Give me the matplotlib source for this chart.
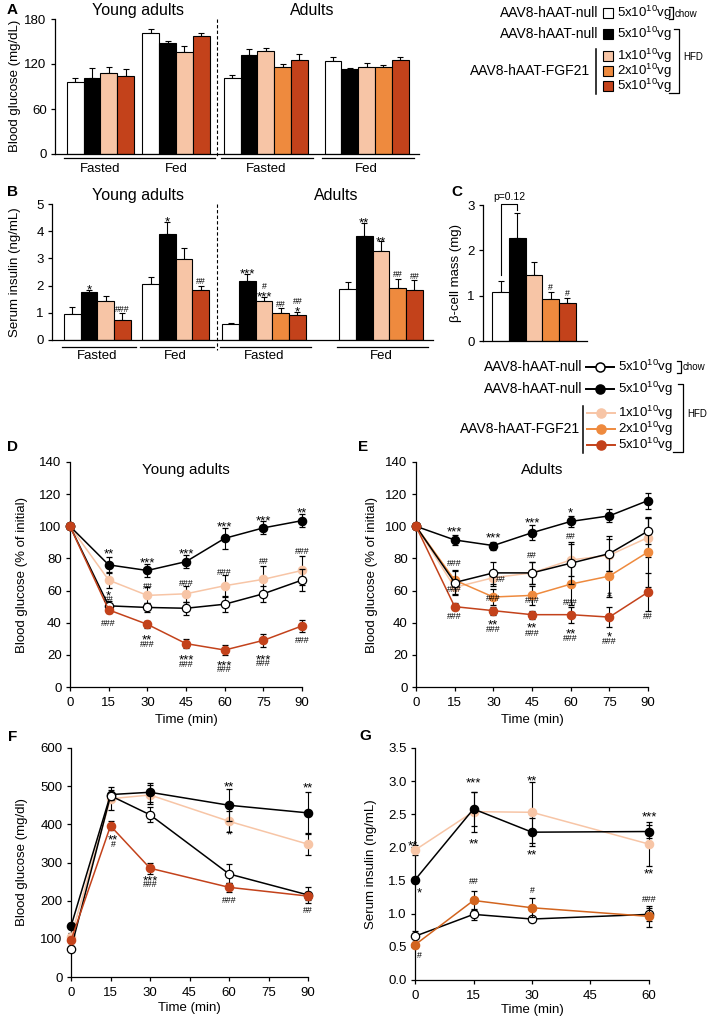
import numpy as np
import matplotlib.pyplot as plt
from matplotlib.patches import Rectangle
from matplotlib.transforms import blended_transform_factory, offset_copy

plt.rcParams['font.family'] = ['Liberation Sans', 'DejaVu Sans']
plt.rcParams['mathtext.default'] = 'regular'
plt.rcParams['axes.linewidth'] = 0.9
plt.rcParams['xtick.major.width'] = 0.9
plt.rcParams['ytick.major.width'] = 0.9
plt.rcParams['xtick.major.size'] = 3
plt.rcParams['ytick.major.size'] = 3
plt.rcParams['xtick.major.pad'] = 4.5
plt.rcParams['ytick.major.pad'] = 3
plt.rcParams['xtick.labelsize'] = 9.5
plt.rcParams['ytick.labelsize'] = 9.5

# ---------------------------------------------------------------
# colours
# ---------------------------------------------------------------
WHITE = '#FFFFFF'
BLACK = '#000000'
PEACH = '#F7C5A6'
ORANGE = '#EE8A3E'
RED = '#C3421B'
G_ORANGE = '#D2641E'
young_colors = [WHITE, BLACK, PEACH, RED]
adult_colors = [WHITE, BLACK, PEACH, ORANGE, RED]

# ---------------------------------------------------------------
# A: blood glucose (mg/dL)
# ---------------------------------------------------------------
a_young_fasted = [96, 102, 108, 104]
a_young_fasted_err = [6, 13, 8, 10]
a_young_fed = [162, 148, 136, 158]
a_young_fed_err = [5, 3, 8, 3]
a_adult_fasted = [102, 132, 137, 116, 126]
a_adult_fasted_err = [4, 8, 5, 4, 7]
a_adult_fed = [124, 113, 116, 116, 126]
a_adult_fed_err = [5, 2, 5, 3, 4]

# ---------------------------------------------------------------
# B: serum insulin (ng/mL)
# ---------------------------------------------------------------
b_young_fasted = [0.97, 1.75, 1.45, 0.75]
b_young_fasted_err = [0.25, 0.1, 0.18, 0.23]
b_young_fasted_sig = ['', '*', '', '###']
b_young_fed = [2.07, 3.88, 2.97, 1.82]
b_young_fed_err = [0.25, 0.47, 0.43, 0.16]
b_young_fed_sig = ['', '*', '', '##']
b_adult_fasted = [0.57, 2.17, 1.43, 1.0, 0.93]
b_adult_fasted_err = [0.05, 0.27, 0.15, 0.17, 0.1]
b_adult_fasted_sig = ['', '***', '#\n***', '##', '##\n*']
b_adult_fed = [1.88, 3.82, 3.27, 1.93, 1.82]
b_adult_fed_err = [0.25, 0.48, 0.36, 0.32, 0.37]
b_adult_fed_sig = ['', '**', '**', '##', '##']

# ---------------------------------------------------------------
# C: beta-cell mass (mg)
# ---------------------------------------------------------------
c_mass = [1.08, 2.27, 1.45, 0.92, 0.83]
c_mass_err = [0.25, 0.55, 0.3, 0.17, 0.12]
c_mass_sig = ['', '', '', '#', '#']

# ---------------------------------------------------------------
# D / E: ITT, % of initial
# ---------------------------------------------------------------
itt_time = [0, 15, 30, 45, 60, 75, 90]
d_black = [100, 76, 72.5, 78, 92.5, 99, 103.5]
d_black_err = [0, 5, 4, 4, 6.5, 4, 4]
d_white = [100, 50.5, 49.5, 49, 51.5, 58, 66.5]
d_white_err = [0, 3, 3, 4, 5, 5, 7]
d_peach = [100, 66.5, 57, 58, 63, 67, 72.5]
d_peach_err = [0, 5, 5, 5, 7, 8, 9]
d_red = [100, 48, 39, 27, 23, 29, 38]
d_red_err = [0, 2, 2, 3, 3, 4, 4]
d_sig = [(15, 85, '**'), (15, 59, '*'), (15, 55, '##'), (15, 40, '###'),
         (30, 80, '***'), (30, 63, '##'), (30, 32, '**'), (30, 27, '###'),
         (45, 85, '***'), (45, 65, '###'), (45, 19.5, '***'), (45, 14.5, '###'),
         (60, 102, '***'), (60, 71.5, '###'), (60, 15.5, '***'), (60, 11, '###'),
         (75, 106, '***'), (75, 78.5, '##'), (75, 19.5, '***'), (75, 15, '###'),
         (90, 111, '**'), (90, 84.5, '###'), (90, 29.5, '###')]

e_black = [100, 91.5, 88, 96, 103, 106.5, 116]
e_black_err = [0, 3, 2.5, 4.5, 3.5, 4, 5]
e_white = [100, 65, 71, 71, 77, 83, 97]
e_white_err = [0, 7, 7, 7, 13, 11, 8]
e_peach = [100, 62, 68, 71, 79, 82, 93]
e_peach_err = [0, 5, 5, 7, 10, 10, 12]
e_orange = [100, 66.5, 56, 57, 64, 69, 84]
e_orange_err = [0, 6, 5, 6, 13, 13, 22]
e_red = [100, 50, 47.5, 45, 45, 43.5, 59]
e_red_err = [0, 2, 2.5, 2.5, 5, 6, 12]
e_sig = [(15, 99, '***'), (15, 77, '###'), (15, 61, '###'), (15, 44.5, '###'),
         (30, 95, '***'), (33, 67, '##'), (30, 55.5, '###'), (30, 41, '**'), (30, 36, '###'),
         (45, 104.5, '***'), (45, 82.5, '##'), (45, 54.5, '###'), (45, 39, '**'), (45, 34, '###'),
         (60, 111, '*'), (60, 94, '##'), (60, 53, '###'), (60, 35.5, '**'), (60, 30.5, '###'),
         (75, 57.5, '#'), (75, 33.5, '*'), (75, 29, '###'),
         (90, 44, '##')]

# ---------------------------------------------------------------
# F: GTT blood glucose (mg/dl)
# ---------------------------------------------------------------
gtt_time = [0, 15, 30, 60, 90]
f_black = [133, 478, 484, 450, 430]
f_black_err = [8, 12, 25, 42, 55]
f_white = [74, 475, 425, 270, 215]
f_white_err = [6, 10, 20, 25, 22]
f_peach = [105, 467, 477, 408, 348]
f_peach_err = [10, 30, 25, 28, 28]
f_red = [96, 396, 285, 235, 212]
f_red_err = [8, 12, 14, 12, 10]
f_sig = [(16, 370, '**'), (16, 348, '#'), (30, 263, '***'), (30, 245, '###'),
         (60, 508, '**'), (60, 384, '*'), (60, 201, '###'),
         (90, 505, '**'), (90, 175, '##')]

# ---------------------------------------------------------------
# G: GTT serum insulin (ng/mL)
# ---------------------------------------------------------------
ins_time = [0, 15, 30, 60]
g_black = [1.51, 2.58, 2.23, 2.24]
g_black_err = [0.05, 0.25, 0.21, 0.1]
g_peach = [1.96, 2.54, 2.53, 2.05]
g_peach_err = [0.08, 0.3, 0.46, 0.33]
g_white = [0.66, 0.99, 0.92, 0.99]
g_white_err = [0.08, 0.08, 0.03, 0.1]
g_orange = [0.53, 1.2, 1.09, 0.96]
g_orange_err = [0.04, 0.15, 0.14, 0.16]
g_sig = [(-0.5, 2.08, '**'), (1, 1.38, '*'), (1, 0.38, '#'),
         (15, 3.04, '***'), (15, 2.12, '**'), (15, 1.49, '##'),
         (30, 3.07, '**'), (30, 1.94, '**'), (30, 1.36, '#'),
         (60, 2.52, '***'), (60, 1.66, '**'), (60, 1.23, '###')]

# ---------------------------------------------------------------
# layout (pixels of a 709 x 1019 canvas)
# ---------------------------------------------------------------
W, H = 709, 1019
fig = plt.figure(figsize=(W / 100, H / 100), dpi=100)

STAR_SIZE = 9.5
HASH_SIZE = 6.3


def add_axes_px(left, top, right, bottom):
    return fig.add_axes([left / W, 1 - bottom / H, (right - left) / W, (bottom - top) / H])


def clean(ax):
    ax.spines['top'].set_visible(False)
    ax.spines['right'].set_visible(False)


def sig_text(ax, x, y, s, dy_pts, anchor='center'):
    """Place a significance mark so its glyphs are centred at (or sit on) y."""
    size = STAR_SIZE if '*' in s else HASH_SIZE
    if anchor == 'center':
        shift = 0.57 * size if '*' in s else 0.36 * size
    else:
        shift = 0.42 * size if '*' in s else 0.0
    tr = offset_copy(ax.transData, fig=fig, y=dy_pts - shift, units='points')
    ax.text(x, y, s, ha='center', va='baseline', fontsize=size, transform=tr, zorder=6)
    return dy_pts + (0.3 * size if '*' in s else 0.72 * size)


def bar_group(ax, start, vals, errs, colors, sigs=None):
    x = start + np.arange(len(vals))
    ax.bar(x, vals, width=1, align='edge', color=colors, edgecolor='black',
           linewidth=0.8, zorder=2)
    ax.errorbar(x + 0.5, vals, yerr=[np.zeros(len(vals)), errs], fmt='none',
                ecolor='black', elinewidth=0.8, capsize=2.5, capthick=0.8, zorder=1)
    if sigs:
        top = np.array(vals) + np.array(errs)
        for xi, ti, s in zip(x, top, sigs):
            off = 1.2
            for line in s.split('\n')[::-1]:
                off = sig_text(ax, xi + 0.5, ti, line, off, 'bottom') + 1.5
    return x


def group_label(ax, start, n, label, xmax, drop_line, drop_text):
    tr = blended_transform_factory(ax.transData, ax.transAxes)
    x0, x1 = start - 0.15, min(start + n + 0.3, xmax)
    ax.plot([x0, x1], [drop_line, drop_line], color='black', lw=0.9,
            transform=tr, clip_on=False)
    ax.text(start + n / 2, drop_text, label, ha='center', va='center',
            fontsize=9.5, transform=tr)


def dashed_split(ax, x, low):
    tr = blended_transform_factory(ax.transData, ax.transAxes)
    ax.plot([x, x], [1.0, low], color='black', lw=0.8, ls=(0, (3, 2)),
            transform=tr, clip_on=False)


def series(ax, t, y, err, line, face, edge, z):
    cont = ax.errorbar(t, y, yerr=err, fmt='-o', color=line, mfc=face, mec=edge,
                       mew=0.9, ms=6, lw=1.1, ecolor='black', elinewidth=0.8,
                       capsize=2.3, capthick=0.8, zorder=z)
    for art in cont.get_children():
        art.set_clip_on(False)


def stars(ax, items):
    for t, y, s in items:
        sig_text(ax, t, y, s, 0)


# ---------------- panel A ----------------
bw = 16.8
axA = add_axes_px(55, 19, 419, 154)
clean(axA)
a_xmax = 364 / bw
axA.set_xlim(0, a_xmax)
axA.set_ylim(0, 180)
axA.set_yticks([0, 60, 120, 180])
axA.set_xticks([])
a_starts = [0.7, 5.2, 10.05, 16.05]
a_sets = [(a_young_fasted, a_young_fasted_err, young_colors, 'Fasted'),
          (a_young_fed, a_young_fed_err, young_colors, 'Fed'),
          (a_adult_fasted, a_adult_fasted_err, adult_colors, 'Fasted'),
          (a_adult_fed, a_adult_fed_err, adult_colors, 'Fed')]
for s, (v, e, c, lab) in zip(a_starts, a_sets):
    bar_group(axA, s, v, e, c)
    group_label(axA, s, len(v), lab, a_xmax, -4 / 135, -15 / 135)
dashed_split(axA, 162 / bw, -3 / 135)

# ---------------- panel B ----------------
bwb = 16.7
axB = add_axes_px(52, 204, 433, 340)
clean(axB)
b_xmax = 381 / bwb
axB.set_xlim(0, b_xmax)
axB.set_ylim(0, 5)
axB.set_yticks(range(6))
axB.set_xticks([])
b_starts = [0.72, 5.4, 10.2, 17.2]
b_sets = [(b_young_fasted, b_young_fasted_err, young_colors, b_young_fasted_sig, 'Fasted'),
          (b_young_fed, b_young_fed_err, young_colors, b_young_fed_sig, 'Fed'),
          (b_adult_fasted, b_adult_fasted_err, adult_colors, b_adult_fasted_sig, 'Fasted'),
          (b_adult_fed, b_adult_fed_err, adult_colors, b_adult_fed_sig, 'Fed')]
for s, (v, e, c, sg, lab) in zip(b_starts, b_sets):
    bar_group(axB, s, v, e, c, sg)
    group_label(axB, s, len(v), lab, b_xmax, -7 / 136, -16 / 136)
dashed_split(axB, 165 / bwb, -10 / 136)

# ---------------- panel C ----------------
axC = add_axes_px(483, 205, 587, 341)
clean(axC)
axC.set_xlim(0, 104 / bwb)
axC.set_ylim(0, 3)
axC.set_yticks([0, 1, 2, 3])
axC.set_xticks([])
cx = bar_group(axC, 0.55, c_mass, c_mass_err, adult_colors, c_mass_sig)
left_leg = c_mass[0] + c_mass_err[0] + 0.12
right_leg = c_mass[1] + c_mass_err[1] + 0.08
axC.plot([cx[0] + 0.5, cx[0] + 0.5, cx[1] + 0.5, cx[1] + 0.5],
         [left_leg, 3.03, 3.03, right_leg], color='black', lw=0.8, clip_on=False)
axC.text((cx[0] + cx[1]) / 2 + 0.5, 3.07, 'p=0.12', ha='center', va='bottom', fontsize=7.5)

# ---------------- panel D / E ----------------
axD = add_axes_px(70, 462, 302, 687)
axE = add_axes_px(416, 462, 648, 687)
for ax in (axD, axE):
    clean(ax)
    ax.set_xlim(0, 90)
    ax.set_ylim(0, 140)
    ax.set_xticks(range(0, 91, 15))
    ax.set_yticks(range(0, 141, 20))
    ax.set_xlabel('Time (min)', fontsize=9.5, labelpad=3)

series(axD, itt_time, d_peach, d_peach_err, PEACH, PEACH, PEACH, 3)
series(axD, itt_time, d_black, d_black_err, BLACK, BLACK, BLACK, 4)
series(axD, itt_time, d_white, d_white_err, BLACK, WHITE, BLACK, 4)
series(axD, itt_time, d_red, d_red_err, RED, RED, RED, 5)
stars(axD, d_sig)
axD.text(0.5, 0.965, 'Young adults', transform=axD.transAxes, ha='center',
         va='center', fontsize=11)

series(axE, itt_time, e_peach, e_peach_err, PEACH, PEACH, PEACH, 3)
series(axE, itt_time, e_orange, e_orange_err, ORANGE, ORANGE, ORANGE, 3)
series(axE, itt_time, e_black, e_black_err, BLACK, BLACK, BLACK, 4)
series(axE, itt_time, e_white, e_white_err, BLACK, WHITE, BLACK, 4)
series(axE, itt_time, e_red, e_red_err, RED, RED, RED, 5)
stars(axE, e_sig)
axE.text(0.545, 0.965, 'Adults', transform=axE.transAxes, ha='center',
         va='center', fontsize=11)

# ---------------- panel F ----------------
axF = add_axes_px(71, 748, 308, 977)
clean(axF)
axF.set_xlim(0, 90)
axF.set_ylim(0, 600)
axF.set_xticks(range(0, 91, 15))
axF.set_yticks(range(0, 601, 100))
axF.set_xlabel('Time (min)', fontsize=9.5, labelpad=2)
series(axF, gtt_time, f_peach, f_peach_err, PEACH, PEACH, PEACH, 3)
series(axF, gtt_time, f_black, f_black_err, BLACK, BLACK, BLACK, 4)
series(axF, gtt_time, f_white, f_white_err, BLACK, WHITE, BLACK, 4)
series(axF, gtt_time, f_red, f_red_err, RED, RED, RED, 5)
stars(axF, f_sig)

# ---------------- panel G ----------------
axG = add_axes_px(415, 748, 649, 980)
clean(axG)
axG.set_xlim(0, 60)
axG.set_ylim(0, 3.5)
axG.set_xticks(range(0, 61, 15))
axG.set_yticks(np.arange(0, 3.51, 0.5))
axG.set_yticklabels([f'{v:.1f}' for v in np.arange(0, 3.51, 0.5)])
axG.set_xlabel('Time (min)', fontsize=9.5, labelpad=1)
series(axG, ins_time, g_peach, g_peach_err, PEACH, PEACH, PEACH, 3)
series(axG, ins_time, g_black, g_black_err, BLACK, BLACK, BLACK, 4)
series(axG, ins_time, g_white, g_white_err, BLACK, WHITE, BLACK, 4)
series(axG, ins_time, g_orange, g_orange_err, G_ORANGE, G_ORANGE, G_ORANGE, 5)
stars(axG, g_sig)

# ---------------------------------------------------------------
# overlay: panel letters, titles, y labels, legends
# ---------------------------------------------------------------
ov = fig.add_axes([0, 0, 1, 1])
ov.set_xlim(0, W)
ov.set_ylim(H, 0)
ov.axis('off')

for letter, x, y in [('A', 12, 10), ('B', 12, 192), ('C', 457, 192), ('D', 13, 447),
                     ('E', 363, 447), ('F', 13, 737), ('G', 365, 736)]:
    ov.text(x, y, letter, fontsize=11, fontweight='bold', ha='center', va='center')

for txt, x, y in [('Young adults', 138, 10), ('Adults', 312, 10),
                  ('Young adults', 138, 195), ('Adults', 336, 195)]:
    ov.text(x, y, txt, fontsize=11.5, ha='center', va='center')

for txt, x, y in [('Blood glucose (mg/dL)', 15, 86), ('Serum insulin (ng/mL)', 15, 272),
                  ('β-cell mass (mg)', 456, 273), ('Blood glucose (% of initial)', 22, 575),
                  ('Blood glucose (% of initial)', 372, 575), ('Blood glucose (mg/dl)', 22, 862),
                  ('Serum insulin (ng/mL)', 371, 864)]:
    ov.text(x, y, txt, fontsize=9.5, rotation=90, ha='center', va='center')

dose_labels = ['5x10$^{10}$vg', '5x10$^{10}$vg', '1x10$^{10}$vg', '2x10$^{10}$vg', '5x10$^{10}$vg']
legend_colors = [WHITE, BLACK, PEACH, ORANGE, RED]


def draw_legend(rows, name_right, fgf_right, fgf_bar, mark_x, text_x, chow_x, hfd_x, boxes):
    ov.text(name_right, rows[0], 'AAV8-hAAT-null', fontsize=10, ha='right', va='center')
    ov.text(name_right, rows[1], 'AAV8-hAAT-null', fontsize=10, ha='right', va='center')
    ov.text(fgf_right, rows[3], 'AAV8-hAAT-FGF21', fontsize=10, ha='right', va='center')
    ov.plot([fgf_bar, fgf_bar], [rows[2] - 7, rows[4] + 8], color='black', lw=1.1)
    for i, (r, c, lab) in enumerate(zip(rows, legend_colors, dose_labels)):
        if boxes:
            ov.add_patch(Rectangle((mark_x, r - 5), 10, 10, facecolor=c,
                                   edgecolor='black', lw=0.8))
        else:
            x0 = mark_x if i < 2 else mark_x + 1
            lc = BLACK if i < 2 else c
            ov.plot([x0, x0 + 28], [r, r], color=lc, lw=1.4)
            ov.plot(x0 + 14, r, 'o', ms=6.5, mfc=c, mec=lc, mew=1.1)
        ov.text(text_x, r, lab, fontsize=9.5, ha='left', va='center')
    # chow bracket
    ov.plot([chow_x - 4, chow_x, chow_x, chow_x - 4],
            [rows[0] - 6, rows[0] - 6, rows[0] + 6, rows[0] + 6], color='black', lw=0.9)
    ov.text(chow_x + 2, rows[0] + 0.5, 'chow', fontsize=7, ha='left', va='center')
    # HFD bracket
    ov.plot([hfd_x - 5, hfd_x, hfd_x, hfd_x - 10],
            [rows[1] - 5, rows[1] - 5, rows[4] + 7, rows[4] + 7], color='black', lw=0.9)
    ov.text(hfd_x + 4, (rows[1] + rows[4]) / 2 - 3, 'HFD', fontsize=7, ha='left', va='center')


draw_legend([13, 34, 56, 71, 86], 598, 590, 596, 603, 617, 673, 679, True)
draw_legend([367, 389, 413, 429, 445], 582, 580, 583, 586, 618, 681, 683, False)

fig.savefig('out.png', dpi=100)
